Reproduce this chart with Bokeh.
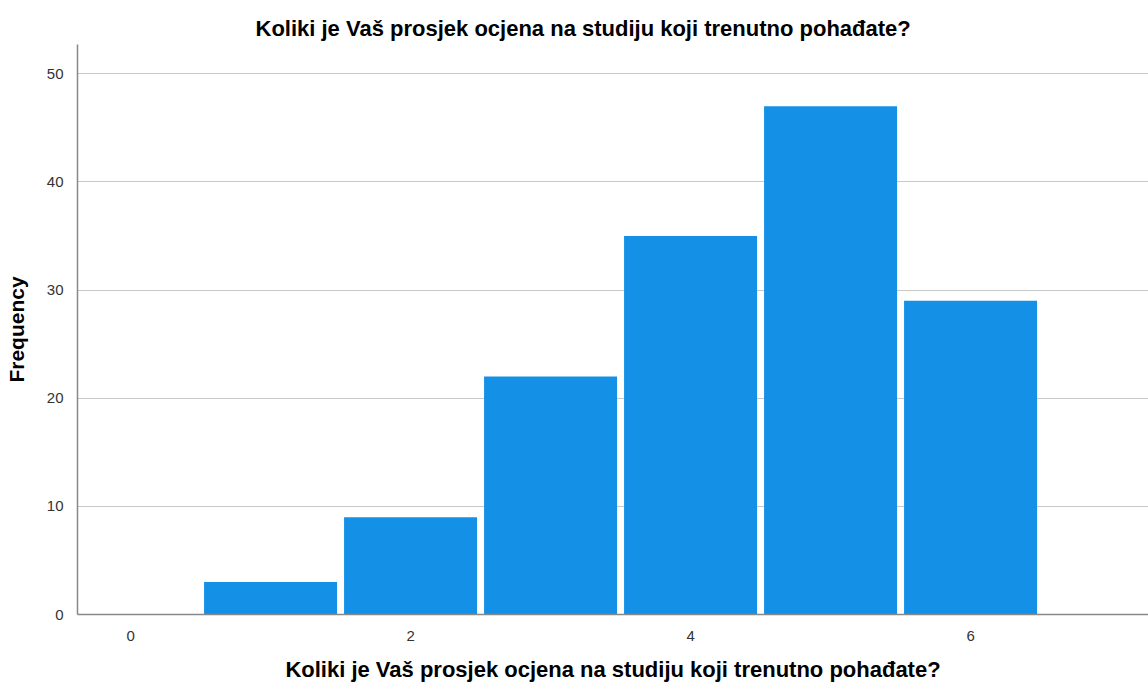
from bokeh.plotting import figure
from bokeh.models import Range1d, FixedTicker
from bokeh.embed import file_html
from bokeh.resources import INLINE

title_text = "Koliki je Vaš prosjek ocjena na studiju koji trenutno pohađate?"
x_label = "Koliki je Vaš prosjek ocjena na studiju koji trenutno pohađate?"
y_label = "Frequency"
bins = [1, 2, 3, 4, 5, 6]
freq = [3, 9, 22, 35, 47, 29]
x_ticks = [0, 2, 4, 6]
y_ticks = [0, 10, 20, 30, 40, 50]

FONT = "Liberation Sans"
BAR = "#1491e6"

p = figure(width=1148, height=684, output_backend="svg", toolbar_location=None,
           x_range=Range1d(-0.379, 7.271), y_range=Range1d(0, 52.7),
           min_border_left=77, min_border_right=0, min_border_top=44, min_border_bottom=70)

p.vbar(x=bins, top=freq, bottom=0, width=0.95, fill_color=BAR, line_color=None)

p.title.text = title_text
p.title.align = "left"
p.title.text_font = FONT
p.title.text_font_size = "22px"
p.title.text_font_style = "bold"
p.title.text_color = "#000000"
p.title.standoff = 7
p.title.offset = 178

p.outline_line_color = None
p.xgrid.grid_line_color = None
p.ygrid.grid_line_color = "#c8c8c8"
p.ygrid.grid_line_width = 1.2

p.xaxis.ticker = FixedTicker(ticks=x_ticks)
p.yaxis.ticker = FixedTicker(ticks=y_ticks)
for ax in (p.xaxis, p.yaxis):
    ax.axis_line_color = "#888888"
    ax.axis_line_width = 1.5
    ax.major_tick_line_color = None
    ax.minor_tick_line_color = None
    ax.major_label_text_font = FONT
    ax.major_label_text_font_size = "15px"
    ax.major_label_text_color = "#333333"
    ax.axis_label_text_font = FONT
    ax.axis_label_text_font_size = "22px"
    ax.axis_label_text_font_style = "bold"
    ax.axis_label_text_color = "#000000"

p.yaxis.axis_label_text_font_size = "21px"
p.xaxis.axis_label = x_label
p.yaxis.axis_label = y_label
p.xaxis.major_label_standoff = 10
p.xaxis.axis_label_standoff = 13
p.yaxis.major_label_standoff = 8
p.yaxis.axis_label_standoff = 16

open("out.html", "w").write(file_html(p, INLINE))
